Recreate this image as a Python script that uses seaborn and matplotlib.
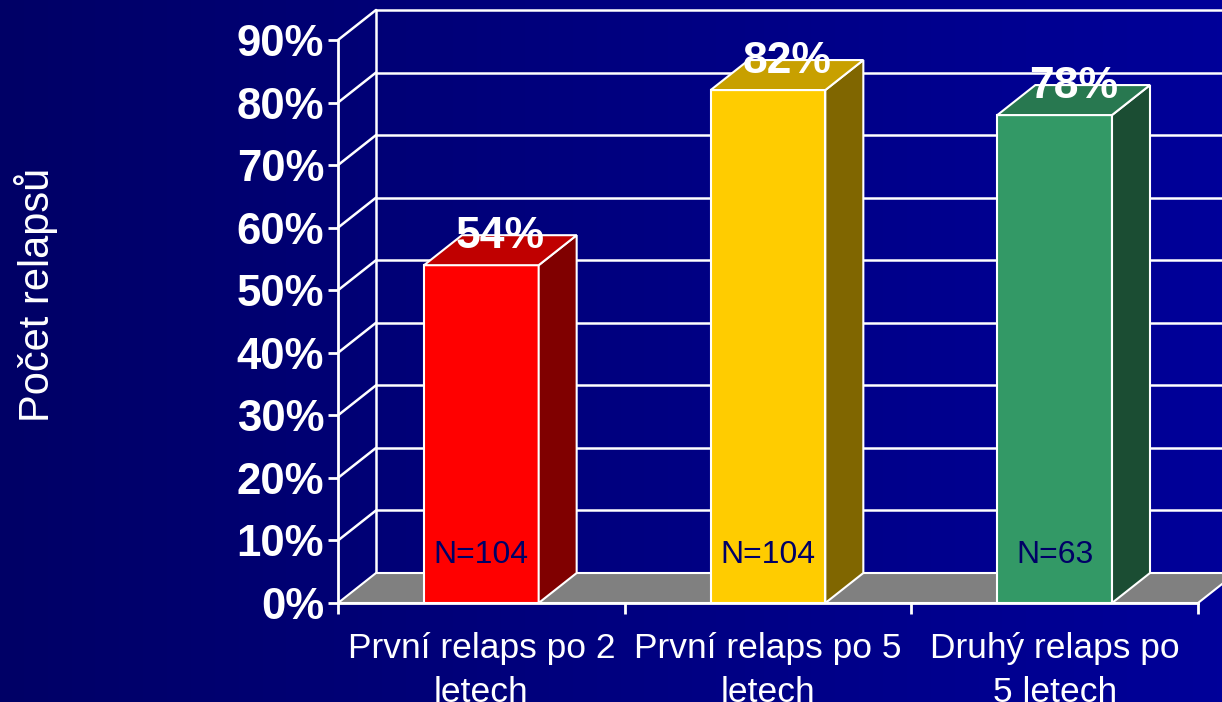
import numpy as np
import pandas as pd
import seaborn as sns
import matplotlib
matplotlib.use('Agg')
import matplotlib.pyplot as plt
from matplotlib.patches import Polygon

categories = ['První relaps po 2\nletech', 'První relaps po 5\nletech', 'Druhý relaps po\n5 letech']
values = [54, 82, 78]
value_labels = ['54%', '82%', '78%']
n_labels = ['N=104', 'N=104', 'N=63']
front_colors = ['#ff0000', '#ffcc00', '#339966']
side_colors = ['#800000', '#806600', '#1b4d33']
top_colors = ['#c00000', '#c8a000', '#287850']
yticks = [0, 10, 20, 30, 40, 50, 60, 70, 80, 90]

sns.set_style('white')
plt.rcParams['font.family'] = ['Liberation Sans', 'DejaVu Sans']

W, H = 1222, 702
fig = plt.figure(figsize=(W / 100, H / 100), dpi=100)

# background gradient, darker on the left
bg = fig.add_axes([0, 0, 1, 1], zorder=-5)
grad = np.linspace(0, 1, 256).reshape(1, -1)
bg.imshow(grad, aspect='auto', extent=[0, 1, 0, 1],
          cmap=matplotlib.colors.LinearSegmentedColormap.from_list('bg', ['#000066', '#000099']))
bg.axis('off')

left_px, right_px, base_px, top_px = 338, 1198, 603, 40
ax = fig.add_axes([left_px / W, (H - base_px) / H, (right_px - left_px) / W, (base_px - top_px) / H])
ax.set_facecolor('none')

# depth of the fake 3d box in data units
dx = 38 / ((right_px - left_px) / 3)
dy = 30 / ((base_px - top_px) / 90)

# back wall grid and left wall diagonals
for v in yticks:
    ax.plot([-0.5 + dx, 2.5 + dx + 0.2], [v + dy, v + dy], color='white', lw=1.8, clip_on=False, zorder=1)
    if v > 0:
        ax.plot([-0.5, -0.5 + dx], [v, v + dy], color='white', lw=1.8, clip_on=False, zorder=1)
ax.plot([-0.5 + dx, -0.5 + dx], [dy, 90 + dy], color='white', lw=1.8, clip_on=False, zorder=1)

# floor
floor = Polygon([(-0.5, 0), (2.5, 0), (2.5 + dx, dy), (-0.5 + dx, dy)], closed=True,
                facecolor='#808080', edgecolor='white', lw=1.5, clip_on=False, zorder=2)
ax.add_patch(floor)

df = pd.DataFrame({'cat': categories, 'val': values})
sns.barplot(data=df, x='cat', y='val', hue='cat', palette=front_colors, legend=False,
            saturation=1, width=0.4, edgecolor='white', linewidth=1.5, ax=ax)
ax.set_xlim(-0.5, 2.5)
ax.set_ylim(0, 90)

bars = [b for c in ax.containers for b in c]
for i, p in enumerate(bars):
    p.set_zorder(4)
    x0 = p.get_x()
    x1 = x0 + p.get_width()
    h = p.get_height()
    side = Polygon([(x1, 0), (x1 + dx, dy), (x1 + dx, h + dy), (x1, h)], closed=True,
                   facecolor=side_colors[i], edgecolor='white', lw=1.5, clip_on=False, zorder=4)
    top = Polygon([(x0, h), (x1, h), (x1 + dx, h + dy), (x0 + dx, h + dy)], closed=True,
                  facecolor=top_colors[i], edgecolor='white', lw=1.5, clip_on=False, zorder=4)
    ax.add_patch(side)
    ax.add_patch(top)
    ax.text(x0 + p.get_width() / 2 + dx / 2, h + dy * 0.95, value_labels[i], color='white', fontsize=32,
            fontweight='bold', ha='center', va='center', zorder=6, clip_on=False)
    ax.text(x0 + p.get_width() / 2, 7.7, n_labels[i], color='#000066', fontsize=23,
            ha='center', va='center', zorder=6)

# axes styling
for s in ['top', 'right']:
    ax.spines[s].set_visible(False)
for s in ['left', 'bottom']:
    ax.spines[s].set_color('white')
    ax.spines[s].set_linewidth(2)
    ax.spines[s].set_zorder(5)

ax.set_yticks(yticks)
ax.set_yticklabels([f'{v}%' for v in yticks], fontsize=31.5, fontweight='bold', color='white')
ax.tick_params(axis='y', direction='out', length=7, width=2, color='white', pad=3, left=True)

ax.set_xticks([0, 1, 2])
ax.set_xticklabels(categories, fontsize=25.5, color='white', linespacing=1.4)
ax.set_xticks([-0.5, 0.5, 1.5, 2.5], minor=True)
ax.tick_params(axis='x', which='major', length=0, pad=21)
ax.tick_params(axis='x', which='minor', direction='out', length=8, width=2, color='white', bottom=True)
ax.set_xlabel('')
ax.set_ylabel('')

fig.text(36 / W, 1 - 295 / H, 'Počet relapsů', rotation=90, color='white', fontsize=30,
         ha='center', va='center')

fig.savefig('out.png', dpi=100)
